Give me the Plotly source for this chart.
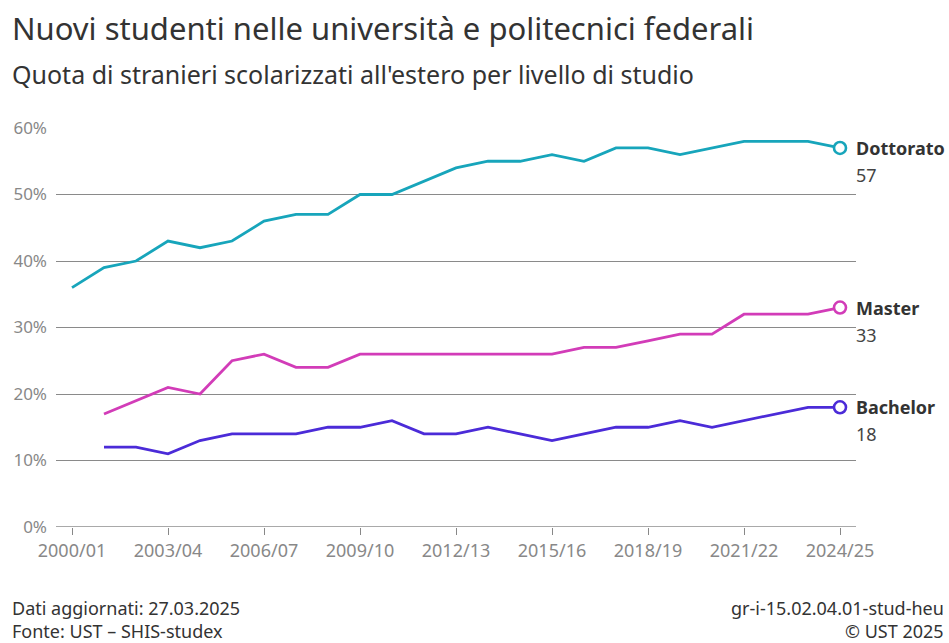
import plotly.graph_objects as go

years = ["2000/01", "2001/02", "2002/03", "2003/04", "2004/05", "2005/06", "2006/07",
         "2007/08", "2008/09", "2009/10", "2010/11", "2011/12", "2012/13", "2013/14",
         "2014/15", "2015/16", "2016/17", "2017/18", "2018/19", "2019/20", "2020/21",
         "2021/22", "2022/23", "2023/24", "2024/25"]

dottorato = [36, 39, 40, 43, 42, 43, 46, 47, 47, 50, 50, 52, 54, 55, 55, 56, 55, 57, 57, 56,
             57, 58, 58, 58, 57]
master = [None, 17, 19, 21, 20, 25, 26, 24, 24, 26, 26, 26, 26, 26, 26, 26, 27, 27, 28, 29,
          29, 32, 32, 32, 33]
bachelor = [None, 12, 12, 11, 13, 14, 14, 14, 15, 15, 16, 14, 14, 15, 14, 13, 14, 15, 15, 16,
            15, 16, 17, 18, 18]

series = [("Dottorato", dottorato, "#17a5bb"),
          ("Master", master, "#d23cb8"),
          ("Bachelor", bachelor, "#4b2bd8")]

tick_years = years[::3]
y_ticks = [0, 10, 20, 30, 40, 50, 60]

FONT = "Noto Sans"

fig = go.Figure()

for name, vals, color in series:
    x_pts = [i for i, v in enumerate(vals) if v is not None]
    y_pts = [v for v in vals if v is not None]
    fig.add_trace(go.Scatter(x=x_pts, y=y_pts, mode="lines", name=name,
                             line=dict(color=color, width=2.8), hoverinfo="skip"))
    # white-filled circle on the last value
    fig.add_trace(go.Scatter(x=[x_pts[-1]], y=[y_pts[-1]], mode="markers",
                             marker=dict(symbol="circle", size=12, color="white",
                                         line=dict(width=2.6, color=color)),
                             cliponaxis=False, hoverinfo="skip"))
    # end labels
    fig.add_annotation(x=1.0, xref="paper", y=y_pts[-1], yref="y", xanchor="left",
                       yanchor="middle", xshift=-2, showarrow=False,
                       text="<b>%s</b>" % name, font=dict(size=18, color="#333333", family=FONT))
    fig.add_annotation(x=1.0, xref="paper", y=y_pts[-1], yref="y", xanchor="left",
                       yanchor="middle", xshift=-2, yshift=-27, showarrow=False,
                       text=str(y_pts[-1]), font=dict(size=18, color="#444444", family=FONT))

fig.update_layout(
    width=949, height=643,
    margin=dict(l=56, r=93, t=128, b=116),
    plot_bgcolor="white", paper_bgcolor="white",
    showlegend=False,
    font=dict(family=FONT, color="#333333"),
    xaxis=dict(range=[-0.5, 24.5], tickmode="array",
               tickvals=[years.index(t) for t in tick_years], ticktext=tick_years,
               showgrid=False, zeroline=False, showline=False,
               ticks="outside", ticklen=7, tickcolor="#888888", tickwidth=1.2,
               tickfont=dict(size=18, color="#888888", family=FONT), fixedrange=True),
    yaxis=dict(range=[0, 60], tickvals=y_ticks, ticktext=["%d%%" % v for v in y_ticks],
               showgrid=True, gridcolor="#8a8a8a", gridwidth=1.4, zeroline=False,
               showline=False, ticks="", ticklabelstandoff=8,
               tickfont=dict(size=17, color="#888888", family=FONT), fixedrange=True),
)

texts = [
    ("Nuovi studenti nelle università e politecnici federali", 10, 28, 31, "left"),
    ("Quota di stranieri scolarizzati all'estero per livello di studio", 10, 74, 25, "left"),
    ("Dati aggiornati: 27.03.2025", 10, 608, 18, "left"),
    ("Fonte: UST – SHIS-studex", 10, 631, 18, "left"),
    ("gr-i-15.02.04.01-stud-heu", 946, 608, 18, "right"),
    ("© UST 2025", 946, 631, 18, "right"),
]
for txt, px, py, size, anchor in texts:
    fig.add_annotation(x=(px - 56) / 800.0, y=(527 - py) / 399.0, xref="paper", yref="paper",
                       xanchor=anchor, yanchor="middle", showarrow=False, text=txt,
                       font=dict(size=size, color="#333333", family=FONT))

# baseline
fig.add_shape(type="line", xref="paper", yref="y", x0=0, x1=1, y0=0, y1=0,
              line=dict(color="#8c8c8c", width=1.5))

fig.write_html("out.html", config={"displayModeBar": False},
               post_script="document.body.style.margin='0';")
